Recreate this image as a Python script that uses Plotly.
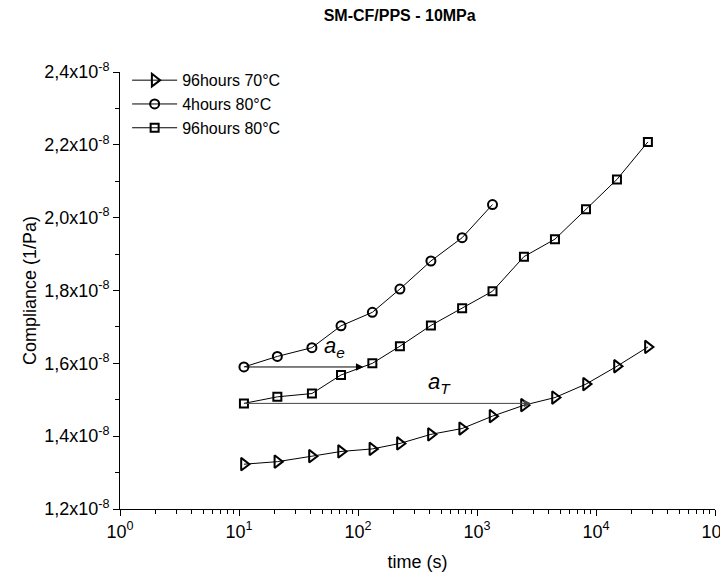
import numpy as np
import plotly.graph_objects as go

# ---- data ----
time_s = [11, 21, 41, 72, 132, 225, 410, 750, 1350, 2480, 4520, 8240, 15000, 27300]
c_96h_70C = [1.323, 1.330, 1.345, 1.358, 1.365, 1.380, 1.405, 1.421, 1.455,
             1.485, 1.506, 1.543, 1.592, 1.645]          # x1e-8 1/Pa
c_4h_80C = [1.590, 1.619, 1.643, 1.703, 1.740, 1.804, 1.881, 1.945, 2.036]
c_96h_80C = [1.490, 1.508, 1.517, 1.568, 1.600, 1.647, 1.704, 1.751, 1.798,
             1.893, 1.941, 2.023, 2.105, 2.208]
series_names = ["96hours 70°C", "4hours 80°C", "96hours 80°C"]
y_tick_vals = [1.2, 1.4, 1.6, 1.8, 2.0, 2.2, 2.4]
x_tick_exps = [0, 1, 2, 3, 4, 5]
ae_shift = 10.1     # horizontal shift factor a_e
aT_shift = 260.0    # horizontal shift factor a_T

scale = 1e-8
FONT = "Liberation Sans, Arial, sans-serif"

fig = go.Figure()
specs = [
    (series_names[0], time_s, c_96h_70C, "triangle-right-open", 11),
    (series_names[1], time_s[:len(c_4h_80C)], c_4h_80C, "circle-open", 9),
    (series_names[2], time_s, c_96h_80C, "square-open", 8),
]
for name, t, c, sym, sz in specs:
    fig.add_trace(go.Scatter(
        x=t, y=[v * scale for v in c], name=name, mode="lines+markers",
        line=dict(color="black", width=1),
        marker=dict(symbol=sym, size=sz, color="black",
                    line=dict(color="black", width=2)),
    ))

# arrows a_e and a_T
y_ae = c_4h_80C[0] * scale
y_aT = c_96h_80C[0] * scale
fig.add_annotation(x=np.log10(time_s[0] * ae_shift), y=y_ae,
                   ax=np.log10(time_s[0]), ay=y_ae, xref="x", yref="y",
                   axref="x", ayref="y", showarrow=True, arrowhead=2,
                   arrowsize=1.5, arrowwidth=1, arrowcolor="black", text="")
fig.add_annotation(x=np.log10(time_s[0] * aT_shift), y=y_aT,
                   ax=np.log10(time_s[0]), ay=y_aT, xref="x", yref="y",
                   axref="x", ayref="y", showarrow=True, arrowhead=2,
                   arrowsize=1.5, arrowwidth=1, arrowcolor="#444444", text="")
fig.add_annotation(x=np.log10(50), y=1.600e-8, xref="x", yref="y",
                   text="<i>a</i><sub><i>e</i></sub>", showarrow=False,
                   xanchor="left", yanchor="bottom",
                   font=dict(family=FONT, size=22, color="black"))
fig.add_annotation(x=np.log10(375), y=1.503e-8, xref="x", yref="y",
                   text="<i>a</i><sub><i>T</i></sub>", showarrow=False,
                   xanchor="left", yanchor="bottom",
                   font=dict(family=FONT, size=22, color="black"))

fig.update_layout(
    width=728, height=579,
    margin=dict(l=112, r=21, t=64, b=78),
    paper_bgcolor="white", plot_bgcolor="white",
    font=dict(family=FONT, color="black"),
    title=dict(text="<b>SM-CF/PPS - 10MPa</b>", x=0.538, xanchor="center",
               y=0.997, yanchor="top", font=dict(size=16, family=FONT)),
    showlegend=True,
    legend=dict(x=0.012, y=1.02, xanchor="left", yanchor="top",
                bgcolor="rgba(0,0,0,0)", font=dict(size=16, family=FONT),
                tracegroupgap=0, itemwidth=45),
)

minor_x = [m * 10 ** k for k in range(0, 5) for m in range(2, 10)]
fig.update_xaxes(
    type="log", range=[0, 5], automargin=False,
    tickvals=[10 ** e for e in x_tick_exps],
    ticktext=[f"10<sup>{e}</sup>" for e in x_tick_exps],
    ticks="outside", ticklen=6, tickwidth=1, tickcolor="black",
    showline=True, linecolor="black", linewidth=1, mirror=False,
    showgrid=False, zeroline=False,
    tickfont=dict(size=18, family=FONT),
    minor=dict(tickvals=minor_x, ticks="outside", ticklen=4,
               tickcolor="black", tickwidth=1, showgrid=False),
    title=dict(text="time (s)", font=dict(size=18, family=FONT), standoff=14),
)
fig.update_yaxes(
    range=[1.2e-8, 2.4e-8], automargin=False,
    tickvals=[v * scale for v in y_tick_vals],
    ticktext=[f"{v:.1f}".replace(".", ",") + "x10<sup>-8</sup>" for v in y_tick_vals],
    ticks="outside", ticklen=6, tickwidth=1, tickcolor="black",
    showline=True, linecolor="black", linewidth=1, mirror=False,
    showgrid=False, zeroline=False,
    tickfont=dict(size=18, family=FONT),
    minor=dict(tickvals=[(v + 0.1) * scale for v in y_tick_vals[:-1]],
               ticks="outside", ticklen=4, tickcolor="black", tickwidth=1,
               showgrid=False),
    title=dict(text="Compliance (1/Pa)", font=dict(size=18, family=FONT),
               standoff=2),
)

fig.write_html("out.html")
